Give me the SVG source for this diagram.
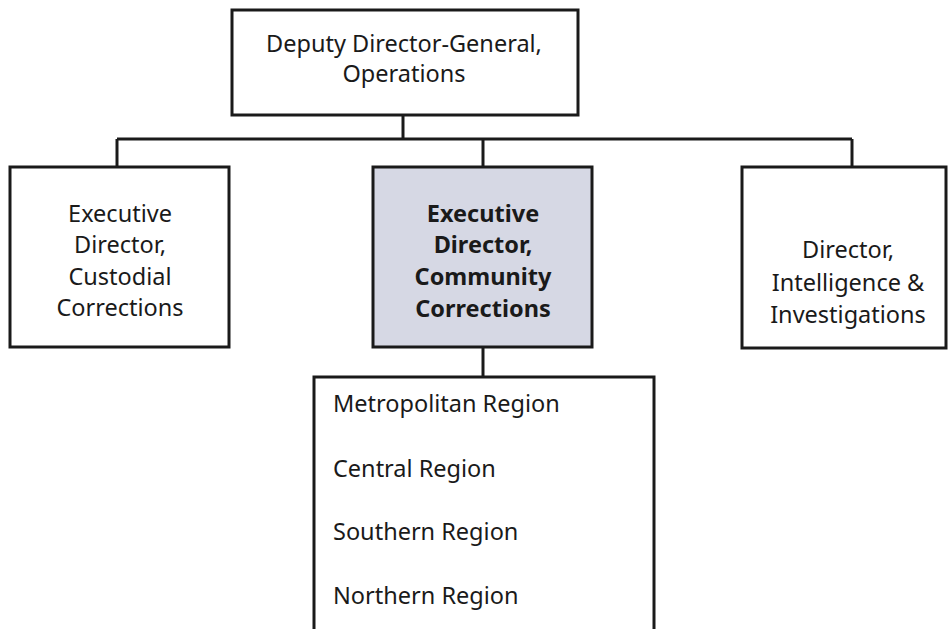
<svg xmlns="http://www.w3.org/2000/svg" width="948" height="629" viewBox="0 0 948 629">
  <style>
    .box { fill: #ffffff; stroke: #1a1a1a; stroke-width: 3; }
    .hl { fill: #d6d8e4; }
    .lbl { font-family: "Noto Sans", "Open Sans", sans-serif; font-size: 23.5px; fill: #1a1a1a; text-anchor: middle; }
    .b { font-weight: bold; }
    .lst { text-anchor: start; }
    .wire { fill: none; stroke: #1a1a1a; stroke-width: 3; }
  </style>
  <rect width="948" height="629" fill="#ffffff"/>

  <g id="connectors">
    <path class="wire" d="M403 115 V139"/>
    <path class="wire" d="M117 139 H852"/>
    <path class="wire" d="M117 139 V167"/>
    <path class="wire" d="M483 139 V167"/>
    <path class="wire" d="M852 139 V167"/>
    <path class="wire" d="M483 347 V377"/>
  </g>

  <g id="ddg">
    <rect class="box" x="232" y="10" width="346" height="105"/>
    <text class="lbl" x="404" y="52">Deputy Director-General,</text>
    <text class="lbl" x="404" y="82">Operations</text>
  </g>

  <g id="custodial">
    <rect class="box" x="10" y="167" width="219" height="180"/>
    <text class="lbl" x="120" y="222">Executive</text>
    <text class="lbl" x="120" y="253">Director,</text>
    <text class="lbl" x="120" y="285">Custodial</text>
    <text class="lbl" x="120" y="316">Corrections</text>
  </g>

  <g id="community">
    <rect class="box hl" x="373" y="167" width="219" height="180"/>
    <text class="lbl b" x="483" y="222">Executive</text>
    <text class="lbl b" x="483" y="253">Director,</text>
    <text class="lbl b" x="483" y="285">Community</text>
    <text class="lbl b" x="483" y="317">Corrections</text>
  </g>

  <g id="intelligence">
    <rect class="box" x="742" y="167" width="204" height="181"/>
    <text class="lbl" x="848" y="258">Director,</text>
    <text class="lbl" x="848" y="291">Intelligence &amp;</text>
    <text class="lbl" x="848" y="323">Investigations</text>
  </g>

  <g id="regions">
    <rect class="box" x="314" y="377" width="340" height="270"/>
    <text class="lbl lst" x="333" y="412">Metropolitan Region</text>
    <text class="lbl lst" x="333" y="477">Central Region</text>
    <text class="lbl lst" x="333" y="540">Southern Region</text>
    <text class="lbl lst" x="333" y="604">Northern Region</text>
  </g>
</svg>
